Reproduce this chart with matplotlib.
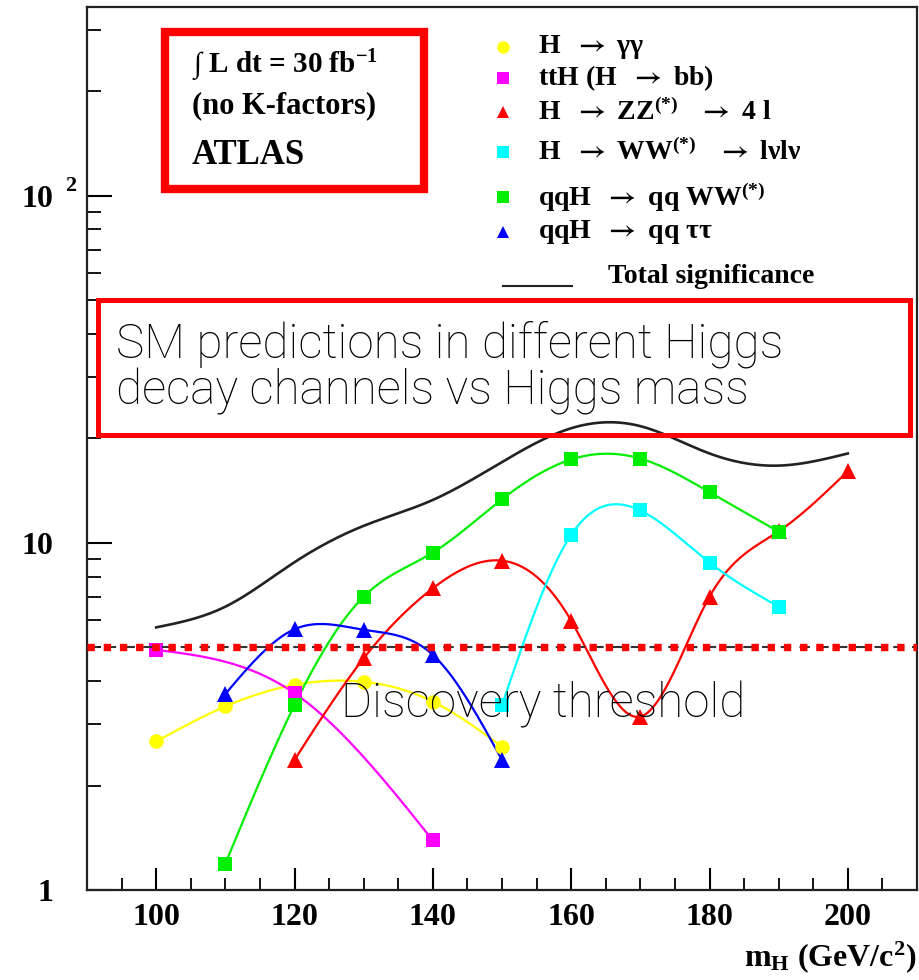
import numpy as np
import matplotlib
matplotlib.use("Agg")
import matplotlib.pyplot as plt
from matplotlib.lines import Line2D
from matplotlib.patches import Rectangle
from matplotlib.ticker import FixedLocator, NullFormatter, FixedFormatter, MultipleLocator

plt.rcParams['font.family'] = ['Liberation Serif', 'DejaVu Serif']
plt.rcParams['font.weight'] = 'bold'
plt.rcParams['mathtext.fontset'] = 'custom'
plt.rcParams['mathtext.rm'] = 'Liberation Serif:bold'
plt.rcParams['mathtext.it'] = 'Liberation Serif:bold'
plt.rcParams['mathtext.bf'] = 'Liberation Serif:bold'
plt.rcParams['mathtext.sf'] = 'STIXGeneral'

# ---------------- data ----------------
mass_gg = [100, 110, 120, 130, 140, 150]
sig_gg = [2.68, 3.38, 3.90, 3.98, 3.49, 2.59]

mass_tth = [100, 120, 140]
sig_tth = [4.92, 3.69, 1.39]

mass_zz = [120, 130, 140, 150, 160, 170, 180, 190, 200]
sig_zz = [2.37, 4.65, 7.40, 8.89, 5.97, 3.16, 7.00, 10.8, 16.1]

mass_ww = [150, 160, 170, 180, 190]
sig_ww = [3.41, 10.55, 12.4, 8.78, 6.55]

mass_qqww = [110, 120, 130, 140, 150, 160, 170, 180, 190]
sig_qqww = [1.19, 3.41, 7.0, 9.38, 13.36, 17.4, 17.5, 14.0, 10.78]

mass_qqtt = [110, 120, 130, 140, 150]
sig_qqtt = [3.67, 5.64, 5.62, 4.76, 2.37]

mass_total = [100, 110, 120, 130, 140, 150, 160, 170, 180, 190, 200]
sig_total = [5.71, 6.55, 8.8, 11.2, 13.3, 17.1, 21.4, 21.7, 18.1, 16.7, 18.1]

discovery = 5.0

AR = r"$\mathsf{\rightarrow}$"
labels = ["H  " + AR + " " + r"$\gamma\gamma$",
          "ttH (H  " + AR + " bb)",
          "H  " + AR + " ZZ$^{(*)}$   " + AR + " 4 l",
          "H  " + AR + " WW$^{(*)}$   " + AR + r" l$\nu$l$\nu$",
          "qqH  " + AR + " qq WW$^{(*)}$",
          "qqH  " + AR + r" qq $\tau\tau$"]
xtick_vals = [100, 120, 140, 160, 180, 200]
xtick_labels = ['100', '120', '140', '160', '180', '200']
ytick_vals = [1, 10, 100]
ytick_labels = ['1', '10', '10']


def smooth(x, y, n=300):
    """Natural cubic spline through the points, in log10(y) space."""
    x = np.asarray(x, float)
    ly = np.log10(np.asarray(y, float))
    m = len(x)
    h = np.diff(x)
    A = np.zeros((m, m))
    b = np.zeros(m)
    A[0, 0] = A[-1, -1] = 1.0
    for i in range(1, m - 1):
        A[i, i - 1] = h[i - 1]
        A[i, i] = 2 * (h[i - 1] + h[i])
        A[i, i + 1] = h[i]
        b[i] = 3 * ((ly[i + 1] - ly[i]) / h[i] - (ly[i] - ly[i - 1]) / h[i - 1])
    c = np.linalg.solve(A, b)
    bb = (ly[1:] - ly[:-1]) / h - h * (2 * c[:-1] + c[1:]) / 3
    d = (c[1:] - c[:-1]) / (3 * h)
    xs = np.linspace(x[0], x[-1], n)
    idx = np.clip(np.searchsorted(x, xs, side='right') - 1, 0, m - 2)
    dx = xs - x[idx]
    ys = ly[idx] + bb[idx] * dx + c[idx] * dx ** 2 + d[idx] * dx ** 3
    return xs, 10 ** ys


W, H = 919, 980
fig = plt.figure(figsize=(W / 100, H / 100), dpi=100)
ax = fig.add_axes([87 / W, 1 - 890 / H, (917 - 87) / W, (890 - 7) / H])
ax.set_yscale('log')
ax.set_xlim(90, 210)
ax.set_ylim(1, 350)

series = [
    (mass_gg, sig_gg, '#ffff00', 'o', 10.5),
    (mass_tth, sig_tth, '#ff00ff', 's', 10),
    (mass_zz, sig_zz, '#ff0000', '^', 11),
    (mass_ww, sig_ww, '#00ffff', 's', 10),
    (mass_qqww, sig_qqww, '#00ee00', 's', 10),
    (mass_qqtt, sig_qqtt, '#0000ff', '^', 11),
]

# total significance
xs, ys = smooth(mass_total, sig_total)
ax.plot(xs, ys, color='#222222', lw=1.9, zorder=3)

for (mx, sy, col, mk, ms) in series:
    xs, ys = smooth(mx, sy)
    ax.plot(xs, ys, color=col, lw=1.6, zorder=3)
    ax.plot(mx, sy, linestyle='none', marker=mk, color=col, markersize=ms,
            markeredgewidth=0, zorder=4)

# discovery threshold
ax.axhline(discovery, color='#333333', lw=1.5, ls=(0, (5, 4)), zorder=5)
ax.axhline(discovery, color='#ff0000', lw=5.3, ls=(0, (1.0, 1.2)), zorder=6,
           dash_capstyle='butt')

# axes styling
for s in ax.spines.values():
    s.set_linewidth(1.6)
    s.set_color('#222222')
ax.xaxis.set_minor_locator(MultipleLocator(5))
ax.set_xticks(xtick_vals)
ax.set_xticklabels(xtick_labels)
ax.tick_params(axis='x', which='major', direction='in', length=16, width=1.5,
               labelsize=23, pad=9, top=False)
ax.tick_params(axis='x', which='minor', direction='in', length=9, width=1.3, top=False)

ax.yaxis.set_major_locator(FixedLocator(ytick_vals))
ax.yaxis.set_major_formatter(FixedFormatter(ytick_labels))
minors = [v * d for d in (1, 10, 100) for v in range(2, 10) if v * d < 350]
ax.yaxis.set_minor_locator(FixedLocator(minors))
ax.yaxis.set_minor_formatter(NullFormatter())
ax.tick_params(axis='y', which='major', direction='in', length=18, width=1.5,
               labelsize=23, pad=24, right=False)
ax.tick_params(axis='y', which='minor', direction='in', length=10, width=1.3, right=False)
# exponent of the 10^2 label
fig.text(71 / W, 1 - 186 / H, "2", fontsize=16, ha='center', va='center')

ax.set_xlabel(r"m$_{\mathrm{H}}$ (GeV/c$^{2}$)", fontsize=23, fontweight='bold')
ax.xaxis.set_label_coords(1.0, -0.056)
ax.xaxis.label.set_horizontalalignment('right')

# legend (drawn as key swatches + texts)
row_y = [47, 78, 112, 152, 197, 232]
for (mx, sy, col, mk, ms), lab, yy in zip(series, labels, row_y):
    fig.add_artist(Line2D([503 / W], [1 - yy / H], transform=fig.transFigure,
                          linestyle='none', marker=mk, color=col, markersize=ms * 0.85,
                          markeredgewidth=0))
    fig.text(538 / W, 1 - yy / H, lab, fontsize=20, ha='left', va='center')
fig.add_artist(Line2D([503 / W, 572 / W], [1 - 286 / H, 1 - 286 / H],
                      transform=fig.transFigure, color='#222222', lw=1.5))
fig.text(608 / W, 1 - 276 / H, "Total significance", fontsize=20, ha='left', va='center')

# box 1 : ATLAS label
fig.patches.append(Rectangle((165 / W, 1 - 189 / H), (424 - 165) / W, (189 - 32) / H,
                             transform=fig.transFigure, fill=False, ec='#ff0000', lw=6,
                             zorder=10))
fig.text(192 / W, 1 - 66 / H, r"$\int$ L dt = 30 fb$^{\mathrm{-1}}$", fontsize=21,
         va='center', ha='left')
fig.text(192 / W, 1 - 106 / H, "(no K-factors)", fontsize=22, va='center', ha='left')
fig.text(192 / W, 1 - 155 / H, "ATLAS", fontsize=25, va='center', ha='left')

# box 2 : annotation
fig.patches.append(Rectangle((97.5 / W, 1 - 434.5 / H), (909.5 - 97.5) / W, (434.5 - 299.5) / H,
                             transform=fig.transFigure, fill=False, ec='#ff0000', lw=3.6,
                             zorder=10))
fig.text(116 / W, 1 - 368 / H, "SM predictions in different Higgs\ndecay channels vs Higgs mass",
         fontsize=34.3, family=['Roboto', 'DejaVu Sans'], fontweight='light',
         va='center', ha='left', linespacing=1.0)

fig.text(341 / W, 1 - 705 / H, "Discovery threshold", fontsize=34.3,
         family=['Roboto', 'DejaVu Sans'], fontweight='light', va='center', ha='left',
         zorder=20)

fig.savefig('out.png', dpi=100, facecolor='white')
